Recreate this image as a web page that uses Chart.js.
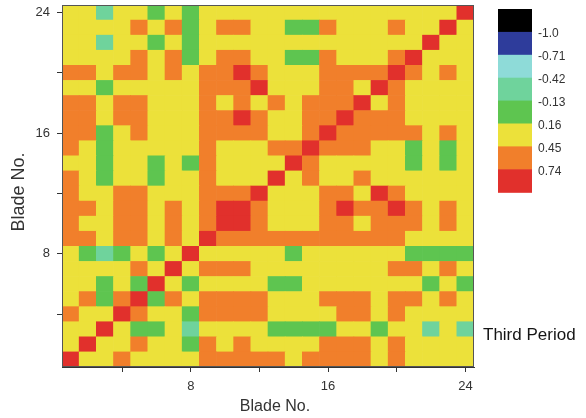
<!DOCTYPE html>
<html>
<head>
<meta charset="utf-8">
<script src="https://cdn.jsdelivr.net/npm/chart.js@4"></script>
<style>
  html, body { margin: 0; padding: 0; background: #fff; }
  #wrap { width: 586px; height: 418px; }
</style>
</head>
<body>
<div id="wrap"><canvas id="c" width="586" height="418"></canvas></div>
<script>
// Blade numbers (both axes)
const blades = [1, 2, 3, 4, 5, 6, 7, 8, 9, 10, 11, 12, 13, 14, 15, 16, 17, 18, 19, 20, 21, 22, 23, 24];
const axisTicks = [4, 8, 12, 16, 20, 24];
const labeledTicks = [8, 16, 24];

// Contour levels of the colour key
const levels = [-1.0, -0.71, -0.42, -0.13, 0.16, 0.45, 0.74];
const levelLabels = ['-1.0', '-0.71', '-0.42', '-0.13', '0.16', '0.45', '0.74'];

// Correlation between blades; row i = blade i+1, column j = blade j+1
const corr = [
  [1.0, 0.3, 0.3, 0.6, 0.3, 0.3, 0.3, 0.3, 0.6, 0.6, 0.6, 0.6, 0.6, 0.3, 0.6, 0.6, 0.6, 0.6, 0.3, 0.6, 0.3, 0.3, 0.3, 0.3],
  [0.3, 1.0, 0.3, 0.3, 0.6, 0.3, 0.3, 0.02, 0.6, 0.3, 0.6, 0.3, 0.3, 0.3, 0.3, 0.6, 0.6, 0.6, 0.3, 0.6, 0.3, 0.3, 0.3, 0.3],
  [0.3, 0.3, 1.0, 0.3, 0.02, 0.02, 0.3, -0.27, 0.3, 0.3, 0.3, 0.3, 0.02, 0.02, 0.02, 0.02, 0.3, 0.3, 0.02, 0.3, 0.3, -0.27, 0.3, -0.27],
  [0.6, 0.3, 0.3, 1.0, 0.6, 0.3, 0.3, 0.02, 0.6, 0.6, 0.6, 0.6, 0.3, 0.3, 0.3, 0.3, 0.6, 0.6, 0.3, 0.6, 0.3, 0.3, 0.3, 0.3],
  [0.3, 0.6, 0.02, 0.6, 1.0, 0.02, 0.6, 0.3, 0.6, 0.6, 0.6, 0.6, 0.3, 0.3, 0.3, 0.6, 0.6, 0.6, 0.3, 0.6, 0.6, 0.3, 0.6, 0.3],
  [0.3, 0.3, 0.02, 0.3, 0.02, 1.0, 0.3, 0.02, 0.3, 0.3, 0.3, 0.3, 0.02, 0.02, 0.3, 0.3, 0.3, 0.3, 0.3, 0.3, 0.3, 0.02, 0.3, 0.02],
  [0.3, 0.3, 0.3, 0.3, 0.6, 0.3, 1.0, 0.3, 0.6, 0.6, 0.6, 0.3, 0.3, 0.3, 0.3, 0.3, 0.3, 0.3, 0.3, 0.6, 0.6, 0.3, 0.6, 0.3],
  [0.3, 0.02, -0.27, 0.02, 0.3, 0.02, 0.3, 1.0, 0.3, 0.3, 0.3, 0.3, 0.3, 0.02, 0.3, 0.3, 0.3, 0.3, 0.3, 0.3, 0.02, 0.02, 0.02, 0.02],
  [0.6, 0.6, 0.3, 0.6, 0.6, 0.3, 0.6, 0.3, 1.0, 0.6, 0.6, 0.6, 0.6, 0.6, 0.6, 0.6, 0.6, 0.6, 0.6, 0.6, 0.3, 0.3, 0.3, 0.3],
  [0.6, 0.3, 0.3, 0.6, 0.6, 0.3, 0.6, 0.3, 0.6, 1.0, 0.82, 0.6, 0.3, 0.3, 0.3, 0.6, 0.6, 0.3, 0.6, 0.6, 0.6, 0.3, 0.6, 0.3],
  [0.6, 0.6, 0.3, 0.6, 0.6, 0.3, 0.6, 0.3, 0.6, 0.82, 1.0, 0.6, 0.3, 0.3, 0.3, 0.6, 0.82, 0.6, 0.6, 0.82, 0.6, 0.3, 0.6, 0.3],
  [0.6, 0.3, 0.3, 0.6, 0.6, 0.3, 0.3, 0.3, 0.6, 0.6, 0.6, 1.0, 0.3, 0.3, 0.3, 0.6, 0.6, 0.3, 0.82, 0.6, 0.3, 0.3, 0.3, 0.3],
  [0.6, 0.3, 0.02, 0.3, 0.3, 0.02, 0.3, 0.3, 0.6, 0.3, 0.3, 0.3, 1.0, 0.3, 0.6, 0.3, 0.3, 0.6, 0.3, 0.3, 0.3, 0.3, 0.3, 0.3],
  [0.3, 0.3, 0.02, 0.3, 0.3, 0.02, 0.3, 0.02, 0.6, 0.3, 0.3, 0.3, 0.3, 1.0, 0.6, 0.3, 0.3, 0.3, 0.3, 0.3, 0.02, 0.3, 0.02, 0.3],
  [0.6, 0.3, 0.02, 0.3, 0.3, 0.3, 0.3, 0.3, 0.6, 0.3, 0.3, 0.3, 0.6, 0.6, 1.0, 0.6, 0.6, 0.6, 0.3, 0.3, 0.02, 0.3, 0.02, 0.3],
  [0.6, 0.6, 0.02, 0.3, 0.6, 0.3, 0.3, 0.3, 0.6, 0.6, 0.6, 0.6, 0.3, 0.3, 0.6, 1.0, 0.6, 0.6, 0.6, 0.6, 0.6, 0.3, 0.6, 0.3],
  [0.6, 0.6, 0.3, 0.6, 0.6, 0.3, 0.3, 0.3, 0.6, 0.6, 0.82, 0.6, 0.3, 0.3, 0.6, 0.6, 1.0, 0.6, 0.6, 0.6, 0.3, 0.3, 0.3, 0.3],
  [0.6, 0.6, 0.3, 0.6, 0.6, 0.3, 0.3, 0.3, 0.6, 0.3, 0.6, 0.3, 0.6, 0.3, 0.6, 0.6, 0.6, 1.0, 0.3, 0.6, 0.3, 0.3, 0.3, 0.3],
  [0.3, 0.3, 0.02, 0.3, 0.3, 0.3, 0.3, 0.3, 0.6, 0.6, 0.6, 0.82, 0.3, 0.3, 0.3, 0.6, 0.6, 0.3, 1.0, 0.6, 0.3, 0.3, 0.3, 0.3],
  [0.6, 0.6, 0.3, 0.6, 0.6, 0.3, 0.6, 0.3, 0.6, 0.6, 0.82, 0.6, 0.3, 0.3, 0.3, 0.6, 0.6, 0.6, 0.6, 1.0, 0.6, 0.3, 0.6, 0.3],
  [0.3, 0.3, 0.3, 0.3, 0.6, 0.3, 0.6, 0.02, 0.3, 0.6, 0.6, 0.3, 0.3, 0.02, 0.02, 0.6, 0.3, 0.3, 0.3, 0.6, 1.0, 0.3, 0.3, 0.3],
  [0.3, 0.3, -0.27, 0.3, 0.3, 0.02, 0.3, 0.02, 0.3, 0.3, 0.3, 0.3, 0.3, 0.3, 0.3, 0.3, 0.3, 0.3, 0.3, 0.3, 0.3, 1.0, 0.3, 0.3],
  [0.3, 0.3, 0.3, 0.3, 0.6, 0.3, 0.6, 0.02, 0.3, 0.6, 0.6, 0.3, 0.3, 0.02, 0.02, 0.6, 0.3, 0.3, 0.3, 0.6, 0.3, 0.3, 1.0, 0.3],
  [0.3, 0.3, -0.27, 0.3, 0.3, 0.02, 0.3, 0.02, 0.3, 0.3, 0.3, 0.3, 0.3, 0.3, 0.3, 0.3, 0.3, 0.3, 0.3, 0.3, 0.3, 0.3, 0.3, 1.0]
];

// One colour per band: below -1.0, then between successive levels, then above 0.74
const palette = ['#000000', '#2e3c9b', '#8edbd8', '#6fd39c', '#5ec550', '#ece13a', '#f17f2b', '#e1302c'];

function bandColour(v) {
  let k = 0;
  while (k < levels.length && v >= levels[k]) k++;
  return palette[k];
}

const FONT = '"Liberation Sans", Arial, Helvetica, sans-serif';
const INK = '#333333';

// Each row of the matrix is a set of floating bars spanning one blade on the y axis
const datasets = blades.map((rowBlade, r) => ({
  data: blades.map((colBlade, c) => ({ x: colBlade, y: [rowBlade - 0.5, rowBlade + 0.5], v: corr[r][c] })),
  backgroundColor: blades.map((colBlade, c) => bandColour(corr[r][c])),
  borderWidth: 0,
  borderSkipped: false,
  grouped: false,
  barPercentage: 1,
  categoryPercentage: 1
}));

// Frame around the plot, axis titles, colour key and side note
const frameAndKey = {
  id: 'frameAndKey',
  afterDraw(chart) {
    const { ctx, chartArea: a } = chart;
    ctx.save();
    ctx.strokeStyle = '#555555';
    ctx.lineWidth = 1;
    ctx.strokeRect(Math.round(a.left) + 0.5, Math.round(a.top) + 0.5,
                   Math.round(a.right - a.left) - 1, Math.round(a.bottom - a.top) - 1);

    // axis titles
    ctx.fillStyle = INK;
    ctx.textAlign = 'center';
    ctx.textBaseline = 'middle';
    ctx.font = '16px ' + FONT;
    ctx.fillText('Blade No.', a.left + 213, a.bottom + 40);
    ctx.save();
    ctx.translate(19, a.top + 187);
    ctx.rotate(-Math.PI / 2);
    ctx.font = '18px ' + FONT;
    ctx.fillText('Blade No.', 0, 0);
    ctx.restore();

    // colour key
    const kx = a.right + 24, kw = 34, ky = a.top + 4, kh = 22.9;
    palette.forEach((col, i) => {
      ctx.fillStyle = col;
      ctx.fillRect(kx, ky + i * kh, kw, kh + 0.6);
    });
    ctx.font = '12px ' + FONT;
    ctx.fillStyle = INK;
    ctx.textAlign = 'left';
    ctx.textBaseline = 'middle';
    levelLabels.forEach((t, i) => ctx.fillText(t, kx + kw + 6, ky + (i + 1) * kh + 2));

    ctx.font = '17px ' + FONT;
    ctx.fillStyle = '#151515';
    ctx.fillText('Third Period', a.right + 9, a.bottom - 32);
    ctx.restore();
  }
};

const axisCommon = {
  type: 'linear',
  min: 0.5,
  max: 24.5,
  offset: false,
  afterBuildTicks(scale) { scale.ticks = axisTicks.map(v => ({ value: v })); },
  ticks: {
    autoSkip: false,
    maxRotation: 0,
    padding: 7,
    color: INK,
    font: { family: FONT, size: 13 },
    callback: v => labeledTicks.includes(v) ? String(v) : ''
  },
  grid: { display: true, drawOnChartArea: false, drawTicks: true, tickLength: 5, color: INK, offset: false },
  border: { display: true, color: INK, width: 1 }
};

new Chart(document.getElementById('c'), {
  type: 'bar',
  data: { datasets },
  options: {
    responsive: false,
    animation: false,
    devicePixelRatio: 1,
    layout: { padding: { left: 0, right: 112, top: 5, bottom: 0 } },
    plugins: { legend: { display: false }, tooltip: { enabled: false } },
    scales: {
      x: Object.assign({}, axisCommon, {
        position: 'bottom',
        title: { display: false },
        afterFit(scale) { scale.height = 51; scale.paddingLeft = 0; scale.paddingRight = 0; }
      }),
      y: Object.assign({}, axisCommon, {
        position: 'left',
        title: { display: false },
        afterFit(scale) { scale.width = 62; scale.paddingTop = 0; scale.paddingBottom = 0; }
      })
    }
  },
  plugins: [frameAndKey]
});
</script>
</body>
</html>
